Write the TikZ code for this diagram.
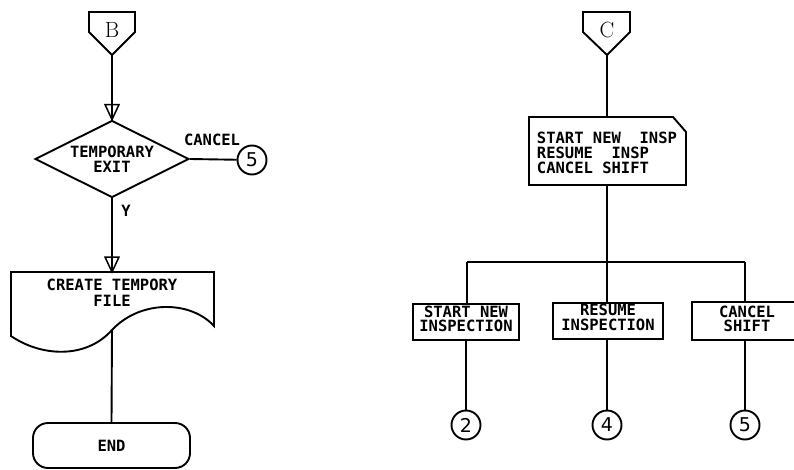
\documentclass[tikz,border=0pt]{standalone}
\usepackage{fontspec}
\newfontfamily\plotfont{DejaVu Sans Mono}
\newfontfamily\digitfont{DejaVu Sans}
\usetikzlibrary{shapes.geometric}
\newcommand\flowtri[1]{\draw[line width=1.5pt,line join=miter] ([shift={(-7,-15)}]#1) -- ([shift={(7,-15)}]#1) -- (#1) -- cycle;}
\begin{document}
\begin{tikzpicture}[x=1pt,y=-1pt,line width=1.9pt,
  txt/.style={font=\plotfont\bfseries\fontsize{15.5}{14.5}\selectfont,inner sep=0pt,align=center},
  boxnode/.style={draw,rectangle,minimum height=36pt,inner sep=0pt},
  conn/.style={draw,circle,minimum size=29pt,inner sep=0pt,font=\digitfont\fontsize{19}{19}\selectfont},
  letter/.style={font=\rmfamily\fontsize{22}{22}\selectfont,inner sep=0pt}]
\useasboundingbox (0,0) rectangle (794,470);

% ---------- left column ----------
\draw (89,12) -- (135,12) -- (135,32) -- (112,55) -- (89,32) -- cycle;
\node[letter] (B) at (112,29.5) {B};
\coordinate (Btip) at (112,55);

\node[draw,diamond,aspect=2,minimum width=154pt,minimum height=77pt,txt] (dia) at (112,159) {TEMPORARY\\EXIT};
\draw (Btip) -- (dia.north);
\flowtri{dia.north}

\node[txt] (cancel) at (212,140) {CANCEL};
\node[conn] (c5l) at (252,160) {5};
\draw (dia.east) -- (c5l);

\node[txt] (yes) at (126,211) {Y};

\draw (11,272) -- (214,272) -- (214,326)
  .. controls (190,300) and (140,300) .. (112,330)
  .. controls (85,360) and (40,356) .. (11,336) -- cycle;
\coordinate (doctop) at (112,272);
\coordinate (docbot) at (112,330);
\node[txt] (doctxt) at (112,293) {CREATE TEMPORY\\[1.5pt]FILE};
\draw (dia.south) -- (doctop);
\flowtri{doctop}

\node[draw,rounded corners=15pt,minimum width=157pt,minimum height=45pt,txt] (end) at (111.5,445.5) {END};
\draw (docbot) -- (end.north);

% ---------- right column ----------
\draw (583,12) -- (630,12) -- (630,32) -- (607,55) -- (583,32) -- cycle;
\node[letter] (C) at (607,30) {C};
\coordinate (Ctip) at (607,55);

\draw (529,117) -- (673,117) -- (686,132) -- (686,185) -- (529,185) -- cycle;
\coordinate (cardtop) at (607,117);
\coordinate (cardbot) at (607,185);
\node[txt,align=left,anchor=north west] (cardtxt) at (536,131.5) {START NEW\ \ INSP\\[0.5pt]RESUME\ \ INSP\\[0.5pt]CANCEL SHIFT};
\draw (Ctip) -- (cardtop);

\coordinate (jl) at (467,262);
\coordinate (jm) at (607,262);
\coordinate (jr) at (745,262);
\draw (cardbot) -- (jm);
\draw (jl) -- (jr);

\node[boxnode,minimum width=106pt] (b1) at (466,322) {};
\node[txt] (b1t) at (466,319) {START NEW\\INSPECTION};
\node[boxnode,minimum width=110pt] (b2) at (608,321) {};
\node[txt] (b2t) at (608,317.5) {RESUME\\INSPECTION};
\node[minimum width=101pt,minimum height=36pt,inner sep=0pt] (b3) at (743.5,321) {};
\draw (b3.north east) -- (b3.north west) -- (b3.south west) -- (b3.south east);
\node[txt] (b3t) at (747,319) {CANCEL\\SHIFT};

\draw (jl) -- (jl |- b1.north);
\draw (jm) -- (jm |- b2.north);
\draw (jr) -- (jr |- b3.north);

\node[conn] (c2) at (466,425) {2};
\node[conn] (c4) at (607,425) {4};
\node[conn] (c5r) at (745,425) {5};
\draw (b1.south -| c2) -- (c2);
\draw (b2.south -| c4) -- (c4);
\draw (b3.south -| c5r) -- (c5r);
\end{tikzpicture}
\end{document}
